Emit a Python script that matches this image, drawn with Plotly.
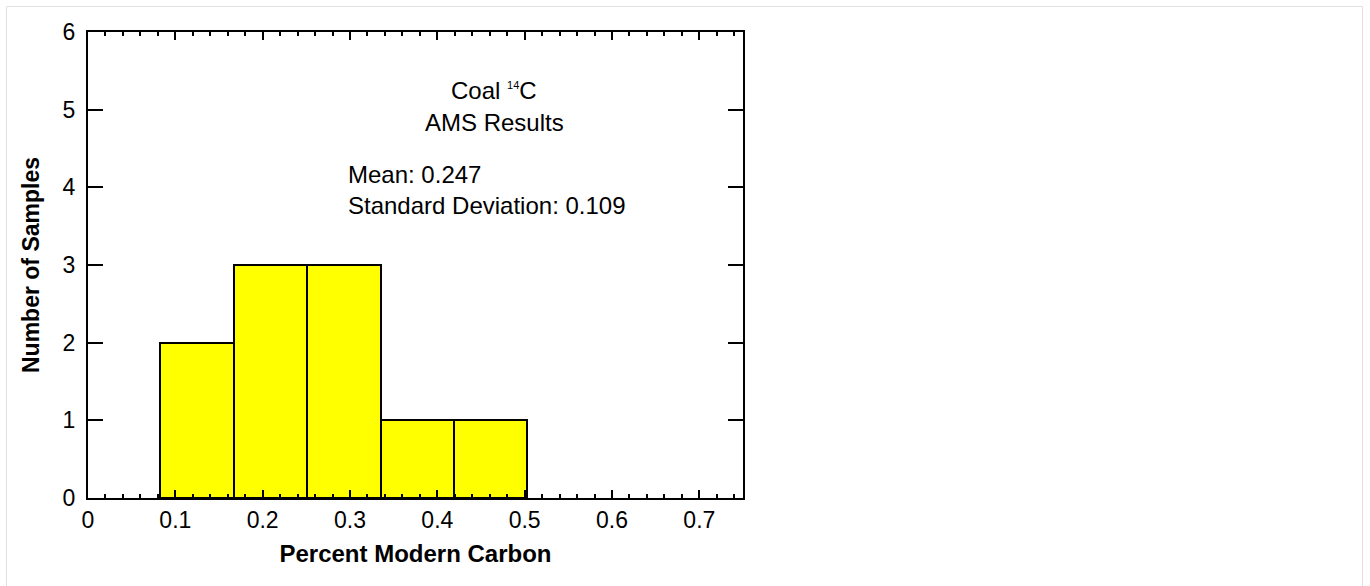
import numpy as np
import plotly.graph_objects as go

# Data
bin_edges = [0.083, 0.167, 0.251, 0.335, 0.419, 0.503]
counts = [2, 3, 3, 1, 1]
x_tick_vals = [0, 0.1, 0.2, 0.3, 0.4, 0.5, 0.6, 0.7]
x_tick_text = ["0", "0.1", "0.2", "0.3", "0.4", "0.5", "0.6", "0.7"]
y_tick_vals = [0, 1, 2, 3, 4, 5, 6]
title_lines = ["Coal <sup><span style='font-size:11px'>14</span></sup>C", "AMS Results"]
stats_lines = ["Mean: 0.247", "Standard Deviation: 0.109"]

edges = np.array(bin_edges)
centers = (edges[:-1] + edges[1:]) / 2
widths = np.diff(edges)

FONT = "Liberation Sans, Arial, Helvetica, sans-serif"

fig = go.Figure()
fig.add_trace(go.Bar(
    x=centers, y=counts, width=widths,
    marker=dict(color="#FFFF00", line=dict(color="black", width=2)),
    showlegend=False,
))

fig.update_layout(
    width=1370, height=586,
    margin=dict(l=88, r=627, t=32, b=88, pad=0),
    paper_bgcolor="white", plot_bgcolor="white",
    font=dict(family=FONT, color="black", size=23),
    bargap=0,
)

fig.update_xaxes(
    range=[0, 0.75], tickvals=x_tick_vals, ticktext=x_tick_text,
    ticks="inside", ticklen=8, tickwidth=2, tickcolor="black",
    minor=dict(dtick=0.02, tick0=0, ticks="inside", ticklen=4, tickwidth=2, tickcolor="black"),
    showline=True, linewidth=2, linecolor="black", mirror="ticks",
    showgrid=False, zeroline=False,
    tickfont=dict(size=23),
    title=dict(text="<b>Percent Modern Carbon</b>", font=dict(size=24), standoff=14),
)
fig.update_yaxes(
    range=[0, 6], tickvals=y_tick_vals,
    ticks="inside", ticklen=15, tickwidth=2, tickcolor="black",
    showline=True, linewidth=2, linecolor="black", mirror="ticks",
    showgrid=False, zeroline=False,
    tickfont=dict(size=23), ticklabelstandoff=6,
    title=dict(text="<b>Number of Samples</b>", font=dict(size=23), standoff=17),
)

# Text inside the plot
title_y = [5.25, 4.84]
for t, yv in zip(title_lines, title_y):
    fig.add_annotation(x=0.465, y=yv, xref="x", yref="y", text=t,
                       showarrow=False, xanchor="center", yanchor="middle",
                       font=dict(size=24, family=FONT))
stats_y = [4.16, 3.76]
for t, yv in zip(stats_lines, stats_y):
    fig.add_annotation(x=0.295, y=yv, xref="x", yref="y", text=t,
                       showarrow=False, xanchor="left", yanchor="middle",
                       font=dict(size=24, family=FONT))

# light grey frame around the whole image
fig.add_shape(type="rect", xref="paper", yref="paper",
              x0=(6.5 - 88) / 655, x1=(1362.5 - 88) / 655,
              y0=(498 - 600) / 466, y1=(498 - 6.5) / 466,
              line=dict(color="#e0e0e0", width=1), fillcolor="rgba(0,0,0,0)", layer="below")

fig.write_html("out.html")
